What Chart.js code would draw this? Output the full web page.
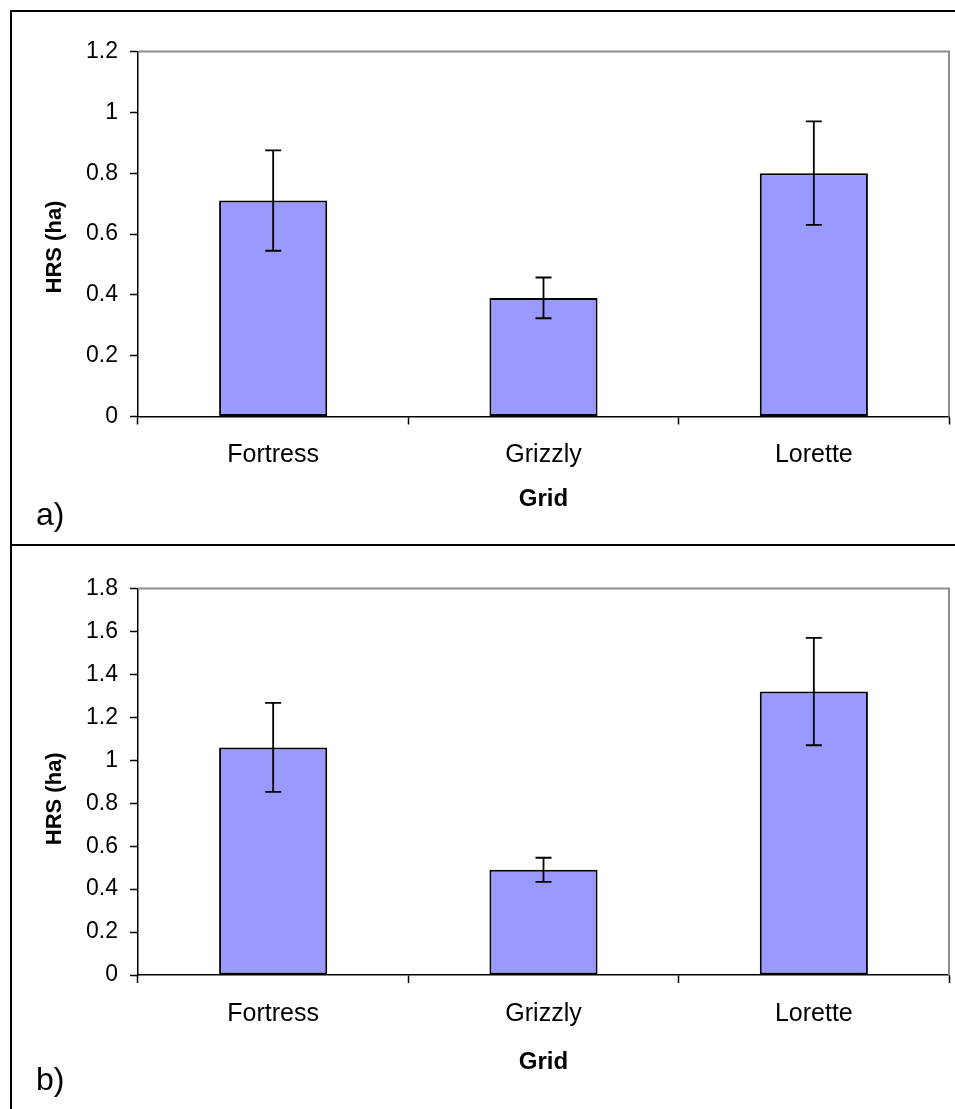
<!DOCTYPE html>
<html>
<head>
<meta charset="utf-8">
<script src="https://cdn.jsdelivr.net/npm/chart.js@4.4.1/dist/chart.umd.min.js"></script>
<style>
  html, body { margin: 0; padding: 0; background: #fff; }
  body { width: 955px; height: 1109px; position: relative; overflow: hidden;
         font-family: "Liberation Sans", Arial, sans-serif; }
  .frame { position: absolute; left: 10px; top: 10px; width: 1000px; height: 1200px;
           border-left: 2px solid #000; border-top: 2px solid #000; }
  .divider { position: absolute; left: 10px; top: 544px; width: 1000px; height: 2px; background: #000; }
  canvas { position: absolute; left: 12px; }
  #chartA { top: 12px; }
  #chartB { top: 546px; }
  .tag { position: absolute; left: 36px; font-size: 32px; line-height: 1; color: #000; }
</style>
</head>
<body>
<div class="frame"></div>
<div class="divider"></div>
<canvas id="chartA" width="943" height="532"></canvas>
<canvas id="chartB" width="943" height="563"></canvas>
<div class="tag" style="top:498px">a)</div>
<div class="tag" style="top:1063px">b)</div>

<script>
// Home range size (ha) per trapping grid, with error bars
const grids = ['Fortress', 'Grizzly', 'Lorette'];

const hrsA = [0.71, 0.39, 0.80];
const errA = [0.165, 0.067, 0.17];
const ticksA = [0, 0.2, 0.4, 0.6, 0.8, 1, 1.2];

const hrsB = [1.06, 0.49, 1.32];
const errB = [0.207, 0.056, 0.25];
const ticksB = [0, 0.2, 0.4, 0.6, 0.8, 1, 1.2, 1.4, 1.6, 1.8];

const yTitle = 'HRS (ha)';
const xTitle = 'Grid';

Chart.defaults.font.family = '"Liberation Sans", Arial, sans-serif';
Chart.defaults.color = '#000';

// grey plot-area border on the top and right sides
const plotFrame = {
  id: 'plotFrame',
  beforeDatasetsDraw(chart) {
    const { ctx, chartArea: a } = chart;
    ctx.save();
    ctx.strokeStyle = '#8c8c8c';
    ctx.lineWidth = 2;
    ctx.beginPath();
    ctx.moveTo(a.left, a.top);
    ctx.lineTo(a.right, a.top);
    ctx.lineTo(a.right, a.bottom);
    ctx.stroke();
    ctx.restore();
  }
};

// rotated value-axis title, sitting a little below the plot's middle
const valueTitle = {
  id: 'valueTitle',
  afterDraw(chart, args, opts) {
    const { ctx, chartArea: a } = chart;
    ctx.save();
    ctx.translate(opts.x, (a.top + a.bottom) / 2 + opts.shift);
    ctx.rotate(-Math.PI / 2);
    ctx.font = 'bold 22px "Liberation Sans", Arial, sans-serif';
    ctx.fillStyle = '#000';
    ctx.textAlign = 'center';
    ctx.textBaseline = 'middle';
    ctx.fillText(opts.text, 0, 0);
    ctx.restore();
  }
};

// symmetric error bars with caps
const errorBars = {
  id: 'errorBars',
  afterDatasetsDraw(chart) {
    const { ctx } = chart;
    const y = chart.scales.y;
    const ds = chart.data.datasets[0];
    const meta = chart.getDatasetMeta(0);
    ctx.save();
    ctx.strokeStyle = '#000';
    ctx.lineWidth = 1.8;
    meta.data.forEach((bar, i) => {
      const v = ds.data[i], e = ds.errors[i];
      const cx = bar.x;
      const yt = y.getPixelForValue(v + e);
      const yb = y.getPixelForValue(v - e);
      ctx.beginPath();
      ctx.moveTo(cx, yt); ctx.lineTo(cx, yb);
      ctx.moveTo(cx - 8, yt); ctx.lineTo(cx + 8, yt);
      ctx.moveTo(cx - 8, yb); ctx.lineTo(cx + 8, yb);
      ctx.stroke();
    });
    ctx.restore();
  }
};

function makePanel(id, values, errors, ticks, geom) {
  const yMax = ticks[ticks.length - 1];
  return new Chart(document.getElementById(id), {
    type: 'bar',
    data: {
      labels: grids,
      datasets: [{
        data: values,
        errors: errors,
        backgroundColor: '#9999ff',
        borderColor: '#000',
        borderWidth: 2,
        borderSkipped: false,
        categoryPercentage: 0.4,
        barPercentage: 1
      }]
    },
    options: {
      responsive: false,
      animation: false,
      devicePixelRatio: 1,
      layout: { padding: { top: geom.top, right: 6, bottom: 0, left: 0 } },
      plugins: {
        legend: { display: false },
        tooltip: { enabled: false },
        valueTitle: { text: yTitle, x: 43, shift: geom.titleShift }
      },
      scales: {
        x: {
          type: 'category',
          offset: true,
          grid: { offset: true, drawOnChartArea: false, drawTicks: true, tickLength: 8, tickColor: '#000', tickWidth: 1.5 },
          border: { color: '#000', width: 1.5 },
          ticks: { font: { size: 25 }, padding: 16, color: '#000' },
          title: { display: true, text: xTitle, font: { size: 24, weight: 'bold' }, padding: { top: 0, bottom: geom.titleBottom }, color: '#000' },
          afterFit: s => { s.height = geom.xHeight; }
        },
        y: {
          min: 0,
          max: yMax,
          afterBuildTicks: s => { s.ticks = ticks.map(v => ({ value: v })); },
          grid: { drawOnChartArea: false, drawTicks: true, tickLength: 8, tickColor: '#000', tickWidth: 1.5 },
          border: { color: '#000', width: 1.5 },
          ticks: { font: { size: 23 }, padding: 12, color: '#000', callback: v => String(v) },
          afterFit: s => { s.width = 126; }
        }
      }
    },
    plugins: [plotFrame, errorBars, valueTitle]
  });
}

makePanel('chartA', hrsA, errA, ticksA, { top: 39.5, xHeight: 127.5, titleBottom: 30, titleShift: 13 });
makePanel('chartB', hrsB, errB, ticksB, { top: 42.5, xHeight: 134, titleBottom: 32, titleShift: 17 });
</script>
</body>
</html>
